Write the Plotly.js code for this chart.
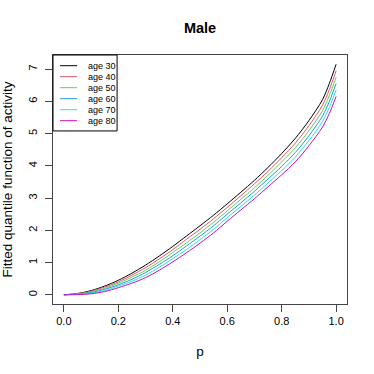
<!DOCTYPE html>
<html>
<head>
<meta charset="utf-8">
<script src="https://cdn.plot.ly/plotly-3.0.1.min.js"></script>
<style>
  html, body { margin: 0; padding: 0; background: #fff; }
  #chart { width: 374px; height: 374px; }
</style>
</head>
<body>
<div id="chart"></div>
<script>
// probability grid
var p = [0, 0.05, 0.1, 0.15, 0.2, 0.25, 0.3, 0.35, 0.4, 0.45, 0.5,
         0.55, 0.6, 0.65, 0.7, 0.75, 0.8, 0.85, 0.9, 0.95, 0.975, 1];

// fitted quantile curves, one per age
var age30 = [0, 0.04, 0.13, 0.27, 0.45, 0.67, 0.92, 1.20, 1.50, 1.82, 2.14,
             2.47, 2.82, 3.18, 3.55, 3.95, 4.38, 4.85, 5.40, 6.05, 6.55, 7.15];
var age40 = [0, 0.03, 0.11, 0.24, 0.40, 0.61, 0.84, 1.11, 1.40, 1.72, 2.03,
             2.36, 2.71, 3.07, 3.44, 3.83, 4.25, 4.70, 5.24, 5.88, 6.36, 6.95];
var age50 = [0, 0.03, 0.09, 0.20, 0.36, 0.55, 0.76, 1.02, 1.31, 1.61, 1.92,
             2.25, 2.60, 2.96, 3.32, 3.71, 4.12, 4.56, 5.09, 5.71, 6.18, 6.75];
var age60 = [0, 0.02, 0.07, 0.17, 0.31, 0.48, 0.69, 0.94, 1.21, 1.51, 1.82,
             2.14, 2.50, 2.85, 3.21, 3.59, 3.98, 4.41, 4.93, 5.54, 5.99, 6.55];
var age70 = [0, 0.01, 0.05, 0.13, 0.27, 0.42, 0.61, 0.85, 1.12, 1.40, 1.71,
             2.03, 2.39, 2.74, 3.09, 3.47, 3.85, 4.27, 4.78, 5.37, 5.81, 6.35];
var age80 = [0, 0.005, 0.03, 0.10, 0.22, 0.36, 0.53, 0.76, 1.02, 1.30, 1.60,
             1.92, 2.28, 2.63, 2.98, 3.35, 3.72, 4.12, 4.62, 5.20, 5.62, 6.15];

var names = ['age 30', 'age 40', 'age 50', 'age 60', 'age 70', 'age 80'];
var series = [age30, age40, age50, age60, age70, age80];
var colors = ['#000000', '#DF536B', '#61D04F', '#2297E6', '#28E2E5', '#CD0BBC'];

var font = 'Liberation Sans, Arial, Helvetica, sans-serif';

var data = [];
for (var i = 0; i < series.length; i++) {
    data.push({
        type: 'scatter',
        mode: 'lines',
        x: p,
        y: series[i],
        name: names[i],
        line: {color: colors[i], width: 1, shape: 'spline', smoothing: 0.8},
        hoverinfo: 'x+y+name'
    });
}

// hand-built legend box (R style, compact rows)
var shapes = [{
    type: 'rect', xref: 'paper', yref: 'paper',
    x0: 0, x1: 0.218, y0: 0.695, y1: 1,
    line: {color: '#000', width: 1}, fillcolor: 'rgba(0,0,0,0)'
}];
var annotations = [];
for (var j = 0; j < names.length; j++) {
    var yy = 1 - (10.7 + 11 * j) / 249;
    shapes.push({
        type: 'line', xref: 'paper', yref: 'paper',
        x0: 0.024, x1: 0.082, y0: yy, y1: yy,
        line: {color: colors[j], width: 1}
    });
    annotations.push({
        xref: 'paper', yref: 'paper', x: 0.112, y: yy,
        xanchor: 'left', yanchor: 'middle', showarrow: false,
        text: names[j], font: {family: font, size: 9, color: '#000'}
    });
}

var layout = {
    width: 374,
    height: 374,
    margin: {l: 53, r: 27, t: 55, b: 70},
    paper_bgcolor: '#fff',
    plot_bgcolor: '#fff',
    showlegend: false,
    font: {family: font, color: '#000'},
    title: {
        text: '<b>Male</b>',
        font: {family: font, size: 14.5, color: '#000'},
        x: 0.535, xanchor: 'center', y: 0.925, yanchor: 'middle'
    },
    xaxis: {
        range: [-0.04, 1.04],
        tickvals: [0, 0.2, 0.4, 0.6, 0.8, 1],
        tickformat: '.1f',
        ticks: 'outside', ticklen: 7, tickcolor: '#444', tickwidth: 1,
        showline: true, mirror: true, linecolor: '#444', linewidth: 1,
        showgrid: false, zeroline: false,
        tickfont: {family: font, size: 11, color: '#000'},
        title: {text: 'p', font: {family: font, size: 13.5, color: '#000'}, standoff: 20}
    },
    yaxis: {
        range: [-0.286, 7.436],
        tickvals: [0, 1, 2, 3, 4, 5, 6, 7],
        tickangle: -90,
        ticks: 'outside', ticklen: 7, tickcolor: '#444', tickwidth: 1,
        showline: true, mirror: true, linecolor: '#444', linewidth: 1,
        showgrid: false, zeroline: false,
        ticklabelstandoff: 4,
        tickfont: {family: font, size: 11, color: '#000'},
        title: {text: 'Fitted quantile function of activity',
                font: {family: font, size: 13.5, color: '#000'}, standoff: 10}
    },
    shapes: shapes,
    annotations: annotations
};

Plotly.newPlot('chart', data, layout, {displayModeBar: false, staticPlot: true});
</script>
</body>
</html>
